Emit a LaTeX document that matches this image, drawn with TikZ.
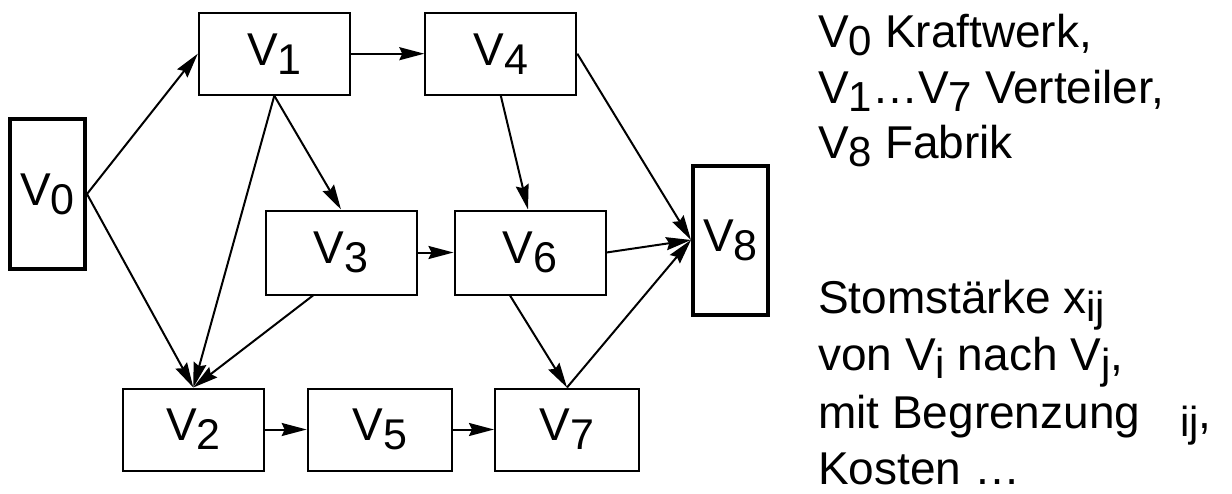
\documentclass[tikz,border=0pt]{standalone}
\usepackage{fontspec}
\setmainfont{Liberation Sans}
\usetikzlibrary{arrows.meta,calc}
\newcommand{\bsub}[1]{\raisebox{-9pt}{\fontsize{43}{43}\selectfont #1}}
\newcommand{\tsub}[1]{\raisebox{-8pt}{\fontsize{42}{42}\selectfont #1}}
\begin{document}
\begin{tikzpicture}[x=1pt,y=-1pt,
  box/.style={draw, line width=2pt, inner sep=0pt, minimum width=151pt, minimum height=82pt, font=\fontsize{46}{46}\selectfont},
  endbox/.style={box, line width=4pt, minimum width=75pt, minimum height=150pt},
  edge/.style={line width=2pt, -{Stealth[length=25pt,width=13pt,inset=3pt]}},
  note/.style={anchor=base west, inner sep=0pt, font=\fontsize{46}{46}\selectfont}]
\path[use as bounding box] (0,0) rectangle (1232,493);
\node[endbox] (v0) at (47.5,194) {\raisebox{5pt}{V\bsub{0}}};
\node[box] (v1) at (274.3,53.7) {V\bsub{1}};
\node[box] (v4) at (500.8,53.7) {V\bsub{4}};
\node[box, minimum height=84pt] (v3) at (341,252.5) {V\bsub{3}};
\node[box, minimum height=84pt] (v6) at (530,252.5) {V\bsub{6}};
\node[endbox, minimum height=149pt] (v8) at (730.5,240) {V\bsub{8}};
\node[box, minimum width=141pt] (v2) at (193.3,429.5) {V\bsub{2}};
\node[box, minimum width=144pt] (v5) at (379.7,429.5) {V\bsub{5}};
\node[box, minimum width=144pt] (v7) at (567,429.5) {V\bsub{7}};
\draw[edge] (v0.east) -- (v1.west);
\draw[edge] (v0.east) -- (v2.north);
\draw[edge] (v1.south) -- (v2.north);
\draw[edge] (v1.south) -- (v3.north);
\draw[edge] (v1.east) -- (v4.west);
\draw[edge] ([xshift=-28pt]v3.south) -- (v2.north);
\draw[edge] (v3.east) -- (v6.west);
\draw[edge] (v4.south) -- ([xshift=-2pt]v6.north);
\draw[edge] (v4.east) -- (v8.west);
\draw[edge] (v6.east) -- (v8.west);
\draw[edge] ([xshift=-20pt]v6.south) -- (v7.north);
\draw[edge] (v7.north) -- (v8.west);
\draw[edge] (v2.east) -- (v5.west);
\draw[edge] (v5.east) -- (v7.west);
\node[note] (t1) at (818,47) {V\tsub{0} Kraftwerk,};
\node[note] (t2) at (818,103) {V\tsub{1}…V\tsub{7} Verteiler,};
\node[note] (t3) at (818,158) {V\tsub{8} Fabrik};
\node[note] (t4) at (818,313) {Stomstärke x\tsub{ij}};
\node[note] (t5) at (818,370) {von V\tsub{i} nach V\tsub{j},};
\node[note] (t6) at (818,428) {\makebox[362pt][l]{mit Begrenzung}\tsub{ij},};
\node[note] (t7) at (818,484) {Kosten …};
\end{tikzpicture}
\end{document}
